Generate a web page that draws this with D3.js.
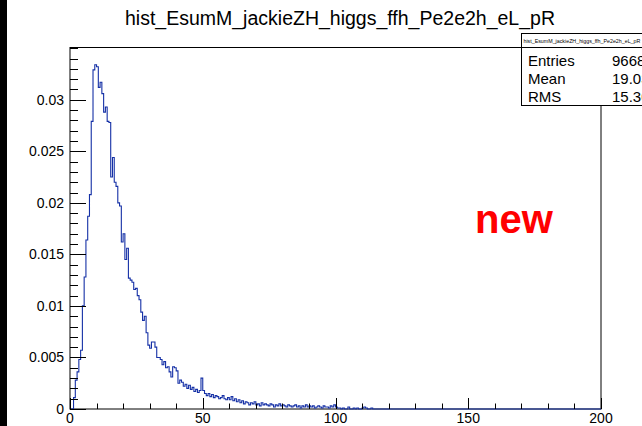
<!DOCTYPE html>
<html>
<head>
<meta charset="utf-8">
<script src="https://cdn.jsdelivr.net/npm/d3@7/dist/d3.min.js"></script>
<style>
  html, body { margin: 0; padding: 0; background: #fff; }
  svg { display: block; font-family: "Liberation Sans", Arial, Helvetica, sans-serif; }
</style>
</head>
<body>
<svg id="chart" width="642" height="426"></svg>
<script>
// ---------------- data ----------------
const histTitle = "hist_EsumM_jackieZH_higgs_ffh_Pe2e2h_eL_pR";
const xRange = [0, 200];
const nBins = 300;
// bin contents starting at x = 0 (bin width = 200/300)
const binValues = [
  0, 0, 0.0011, 0.0028, 0.0036, 0.0048, 0.0057, 0.0100, 0.0128, 0.0164,
  0.0187, 0.0208, 0.0279, 0.0329, 0.0334, 0.0332, 0.0312, 0.0317, 0.0306, 0.0288,
  0.0293, 0.0279, 0.0278, 0.0225, 0.0244, 0.0220, 0.0216, 0.0200, 0.0197, 0.0162,
  0.0170, 0.0145, 0.0156, 0.0127, 0.0125, 0.0123, 0.0116, 0.0117, 0.0110, 0.0106,
  0.0094, 0.0086, 0.0090, 0.0074, 0.0062, 0.0059, 0.0065, 0.0065, 0.0060, 0.0050,
  0.0050, 0.0048, 0.0043, 0.0046, 0.0040, 0.0041, 0.0036, 0.0031, 0.0041, 0.0040,
  0.0037, 0.0025, 0.0028, 0.0026, 0.0022, 0.0024, 0.0020, 0.0023, 0.0019, 0.0021,
  0.0017, 0.0019, 0.0016, 0.0018, 0.0030, 0.0018, 0.0015, 0.0013, 0.0015, 0.0012,
  0.0014, 0.0011, 0.0013, 0.0012, 0.0010, 0.0011, 0.0013, 0.0010, 0.0009, 0.0011,
  0.0009, 0.0012, 0.0008, 0.0010, 0.0007, 0.0009, 0.0006, 0.0008, 0.0005, 0.0007,
  0.0006, 0.0004, 0.0006, 0.0005, 0.0007, 0.0004, 0.0005, 0.0003, 0.0006, 0.0004,
  0.0005, 0.0004, 0.0003, 0.0005, 0.0004, 0.0002, 0.0004, 0.0003, 0.0005, 0.0003,
  0.0004, 0.0003, 0.0002, 0.0004, 0.0003, 0.0002, 0.0003, 0.0004, 0.0002, 0.0003,
  0.0001, 0.0003, 0.0002, 0.0004, 0.0002, 0.0003, 0.0002, 0.0003, 0.0001, 0.0002,
  0.0003, 0.0002, 0.0001, 0.0003, 0.0002, 0.0002, 0.0001, 0.0003, 0.0002, 0.0004,
  0.0002, 0.0001, 0.0001, 0, 0.0001, 0, 0, 0.0002, 0, 0,
  0.0001, 0, 0.0001, 0, 0, 0.0001, 0.0002, 0.0001, 0, 0,
  0.0001
];
const yTickValues = [0, 0.005, 0.01, 0.015, 0.02, 0.025, 0.03];
const yTickLabels = ["0", "0.005", "0.01", "0.015", "0.02", "0.025", "0.03"];
const xTickValues = [0, 50, 100, 150, 200];
const xTickLabels = ["0", "50", "100", "150", "200"];
const statNames = ["Entries", "Mean", "RMS"];
const statValues = ["9668", "19.03", "15.30"];
const overlayText = "new";

// ---------------- layout ----------------
const W = 642, H = 426;
const frame = { left: 70, right: 601, top: 47.5, bottom: 409 };
const yMax = 1.05 * d3.max(binValues);

const svg = d3.select("#chart");

// window border on the left
svg.append("rect").attr("x", 0).attr("y", 0).attr("width", 7).attr("height", H).attr("fill", "#000");

const x = d3.scaleLinear().domain(xRange).range([frame.left, frame.right]);
const y = d3.scaleLinear().domain([0, yMax]).range([frame.bottom, frame.top]);

// title
svg.append("text")
  .attr("x", 340).attr("y", 25)
  .attr("text-anchor", "middle")
  .attr("font-size", 19.5)
  .attr("fill", "#000")
  .text(histTitle);

// frame
svg.append("rect")
  .attr("x", frame.left).attr("y", frame.top)
  .attr("width", frame.right - frame.left).attr("height", frame.bottom - frame.top)
  .attr("fill", "none").attr("stroke", "#000").attr("stroke-width", 1);

// histogram step outline
const bw = (xRange[1] - xRange[0]) / nBins;
const pts = [[x(0), y(0)]];
binValues.forEach((v, i) => {
  pts.push([x(i * bw), y(v)]);
  pts.push([x((i + 1) * bw), y(v)]);
});
pts.push([x(binValues.length * bw), y(0)]);
pts.push([x(xRange[1]), y(0)]);
svg.append("path")
  .attr("d", d3.line()(pts))
  .attr("fill", "none")
  .attr("stroke", "#1530a6")
  .attr("stroke-width", 1.1);

// y axis ticks (major + minor) drawn inward
const yMinor = d3.range(0, yMax + 1e-9, 0.001);
const yMajLen = 16, yMinLen = 8;
const yAx = svg.append("g");
yAx.selectAll("line.minor").data(yMinor).enter().append("line")
  .attr("x1", frame.left).attr("x2", frame.left + yMinLen)
  .attr("y1", d => Math.round(y(d)) + 0.5).attr("y2", d => Math.round(y(d)) + 0.5)
  .attr("stroke", "#000").attr("stroke-width", 1);
yAx.selectAll("line.major").data(yTickValues).enter().append("line")
  .attr("x1", frame.left).attr("x2", frame.left + yMajLen)
  .attr("y1", d => Math.round(y(d)) + 0.5).attr("y2", d => Math.round(y(d)) + 0.5)
  .attr("stroke", "#000").attr("stroke-width", 1);
yAx.selectAll("text").data(yTickValues).enter().append("text")
  .attr("x", frame.left - 6).attr("y", d => y(d) + 5)
  .attr("text-anchor", "end").attr("font-size", 14).attr("fill", "#000")
  .text((d, i) => yTickLabels[i]);

// x axis ticks
const xMinor = d3.range(0, 200 + 1e-9, 10);
const xMajLen = 11, xMinLen = 5.5;
const xAx = svg.append("g");
xAx.selectAll("line.minor").data(xMinor).enter().append("line")
  .attr("x1", d => Math.round(x(d)) + 0.5).attr("x2", d => Math.round(x(d)) + 0.5)
  .attr("y1", frame.bottom).attr("y2", frame.bottom - xMinLen)
  .attr("stroke", "#000").attr("stroke-width", 1);
xAx.selectAll("line.major").data(xTickValues).enter().append("line")
  .attr("x1", d => Math.round(x(d)) + 0.5).attr("x2", d => Math.round(x(d)) + 0.5)
  .attr("y1", frame.bottom).attr("y2", frame.bottom - xMajLen)
  .attr("stroke", "#000").attr("stroke-width", 1);
xAx.selectAll("text").data(xTickValues).enter().append("text")
  .attr("x", d => x(d)).attr("y", 423)
  .attr("text-anchor", "middle").attr("font-size", 14).attr("fill", "#000")
  .text((d, i) => xTickLabels[i]);

// overlay "new"
svg.append("text")
  .attr("x", 475).attr("y", 233)
  .attr("font-size", 40).attr("font-weight", "bold")
  .attr("fill", "#ff0000")
  .text(overlayText);

// stats box
const sb = { x: 521.5, y: 33.5, w: 130, hTitle: 14, h: 72 };
svg.append("rect").attr("x", sb.x).attr("y", sb.y).attr("width", sb.w).attr("height", sb.h)
  .attr("fill", "#fff").attr("stroke", "#000").attr("stroke-width", 1);
svg.append("line").attr("x1", sb.x).attr("x2", sb.x + sb.w)
  .attr("y1", sb.y + sb.hTitle).attr("y2", sb.y + sb.hTitle)
  .attr("stroke", "#000").attr("stroke-width", 1);
svg.append("text").attr("x", sb.x + 2).attr("y", sb.y + 9)
  .attr("font-size", 5.3).attr("fill", "#000").text(histTitle);
statNames.forEach((n, i) => {
  const yy = sb.y + 32 + i * 18;
  svg.append("text").attr("x", sb.x + 6.5).attr("y", yy)
    .attr("font-size", 15).attr("fill", "#000").text(n);
  svg.append("text").attr("x", 612).attr("y", yy)
    .attr("font-size", 15).attr("fill", "#000").text(statValues[i]);
});
</script>
</body>
</html>
